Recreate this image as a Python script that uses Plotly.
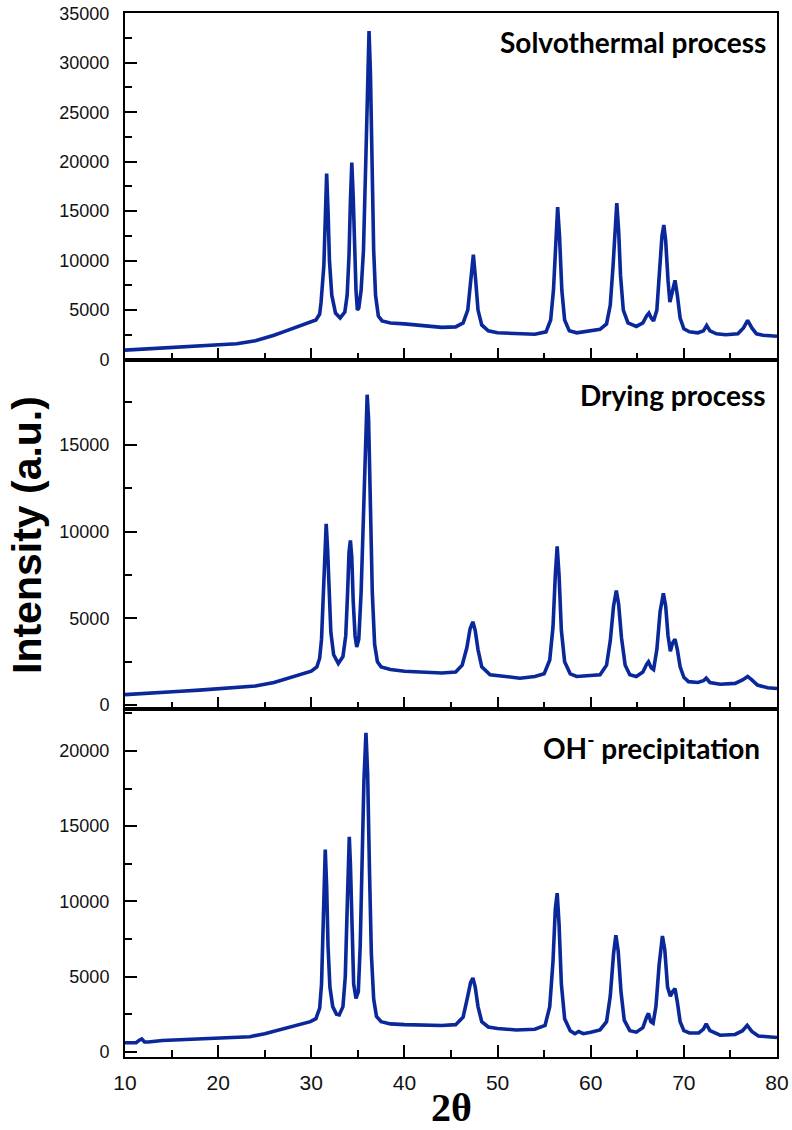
import plotly.graph_objects as go
from plotly.subplots import make_subplots

# ---------------- data ----------------
solv_x = [10, 12, 14, 16, 18, 20, 22, 24, 25, 26, 27, 28, 29, 30, 30.5, 30.9,
          31.05, 31.35, 31.5, 31.65, 31.8, 31.95, 32.2, 32.6, 33.1, 33.6,
          33.85, 34.05, 34.2, 34.35, 34.5, 34.65, 34.8, 34.95, 35.1,
          35.35, 35.6, 35.85, 36.05, 36.2, 36.35, 36.5, 36.7, 36.9, 37.2, 37.6,
          38.5, 40, 42, 44, 45.5, 46.3, 46.8, 47.1, 47.4, 47.65, 47.9, 48.3,
          49, 50, 52, 54, 55.2, 55.7, 56.0, 56.25, 56.45, 56.65, 56.9, 57.2,
          57.7, 58.5, 60, 61, 61.7, 62.1, 62.4, 62.6, 62.8, 63.0, 63.2, 63.5,
          64.0, 64.9, 65.6, 66.0, 66.25, 66.5, 66.75, 67.1, 67.4, 67.65, 67.85,
          68.05, 68.3, 68.5, 68.75, 69.05, 69.3, 69.6, 70.0, 70.6, 71.5, 72.1,
          72.45, 72.8, 73.5, 74.5, 75.8, 76.4, 76.85, 77.3, 77.8, 78.5, 80]
solv_y = [950, 1050, 1150, 1250, 1350, 1450, 1600, 1900, 2150, 2450, 2800, 3150, 3500, 3800, 4000, 4600,
          5800, 9500, 14500, 18800, 15000, 10000, 6500, 4700, 4200, 4800,
          6500, 10500, 16000, 19900, 16500, 11000, 7000, 5000, 5200,
          7000, 11000, 20000, 29000, 33200, 29000, 20000, 11000, 6500, 4400, 3900,
          3700, 3600, 3450, 3250, 3300, 3700, 5000, 8000, 10600, 8000, 5000, 3500,
          2900, 2700, 2600, 2550, 2800, 4000, 7000, 12500, 15400, 12500, 7000, 4000,
          2900, 2700, 2900, 3050, 3600, 5500, 9500, 13500, 15800, 13000, 8500, 5000,
          3700, 3350, 3700, 4400, 4700, 4200, 3900, 5000, 8500, 12500, 13600,
          12000, 8000, 5800, 6800, 8000, 6500, 4200, 3100, 2800, 2700, 2900,
          3450, 2900, 2600, 2500, 2600, 3200, 3950, 3200, 2600, 2450, 2350]

dry_x = [10, 12, 14, 16, 18, 20, 22, 24, 26, 27, 28, 29, 30, 30.6, 30.9,
         31.1, 31.3, 31.45, 31.6, 31.75, 31.9, 32.1, 32.4, 32.9, 33.4,
         33.7, 33.9, 34.05, 34.2, 34.35, 34.5, 34.7, 34.88, 35.1,
         35.35, 35.6, 35.85, 36.0, 36.15, 36.35, 36.55, 36.8, 37.1, 37.5,
         38.5, 40, 42, 44, 45.5, 46.2, 46.7, 47.05, 47.35, 47.6, 47.9, 48.3,
         49.2, 50.5, 52.4, 54.0, 55.0, 55.6, 55.95, 56.2, 56.4, 56.6, 56.85, 57.2,
         57.8, 58.5, 60, 61, 61.7, 62.1, 62.45, 62.75, 63.0, 63.3, 63.7,
         64.2, 64.9, 65.6, 66.0, 66.2, 66.5, 66.75, 67.1, 67.45, 67.8, 68.05,
         68.3, 68.55, 68.8, 69.05, 69.3, 69.6, 70.0, 70.5, 71.5, 72.1, 72.4,
         72.8, 73.9, 75.5, 76.3, 76.85, 77.3, 77.9, 79, 80]
dry_y = [600, 650, 720, 800, 860, 930, 1000, 1100, 1300, 1450, 1650, 1800, 1950, 2200, 2700,
         3800, 6500, 9000, 10450, 9000, 6500, 4200, 2900, 2400, 2800,
         4000, 6500, 8800, 9500, 8500, 6000, 4000, 3350, 3800,
         6500, 11500, 16500, 17900, 16500, 11500, 6500, 3500, 2500, 2200,
         2050, 1950, 1900, 1850, 1900, 2300, 3300, 4400, 4800, 4300, 3200, 2200,
         1750, 1650, 1550, 1650, 1800, 2600, 4500, 7500, 9150, 7500, 4300, 2500,
         1800, 1650, 1700, 1750, 2300, 3700, 5700, 6600, 5800, 3900, 2300,
         1750, 1650, 1900, 2350, 2500, 2150, 2050, 3200, 5400, 6450, 5700,
         4000, 3100, 3600, 3800, 3200, 2200, 1600, 1350, 1300, 1400, 1550,
         1300, 1200, 1250, 1450, 1650, 1450, 1150, 1000, 950]

oh_x = [10, 11.2, 11.5, 11.8, 12.1, 12.5, 14, 16, 18, 20, 22, 23.4, 25, 27, 28.5, 29.9,
        30.5, 30.9, 31.1, 31.25, 31.4, 31.5, 31.65, 31.8, 32.0, 32.3, 32.7, 33.0,
        33.4, 33.65, 33.85, 34.0, 34.08, 34.2, 34.35, 34.55, 34.8, 35.05,
        35.25, 35.45, 35.65, 35.87, 36.05, 36.25, 36.45, 36.7, 37.0, 37.5,
        38.5, 40, 42, 44, 45.5, 46.3, 46.8, 47.1, 47.35, 47.6, 47.9, 48.3,
        49, 50, 52, 54, 55.1, 55.6, 55.95, 56.2, 56.4, 56.6, 56.85, 57.2,
        57.8, 58.3, 58.7, 59.2, 60, 61, 61.7, 62.1, 62.45, 62.7, 62.95, 63.25,
        63.6, 64.2, 64.9, 65.6, 66.0, 66.2, 66.45, 66.7, 67.0, 67.35, 67.7,
        67.95, 68.25, 68.55, 68.8, 69.05, 69.3, 69.6, 70.0, 70.6, 71.6, 72.1,
        72.4, 72.8, 73.9, 75.5, 76.3, 76.8, 77.3, 78, 79, 80]
oh_y = [600, 600, 750, 850, 650, 650, 750, 800, 900, 950, 1000, 1000, 1200, 1550, 1800, 2000,
        2200, 2900, 4500, 8000, 12000, 13450, 11000, 7000, 4300, 3000, 2500, 2450,
        3000, 5000, 9500, 13200, 14300, 12500, 8000, 4500, 3550, 4000,
        7000, 12500, 18000, 21200, 18500, 12000, 6500, 3500, 2350, 2000,
        1850, 1800, 1780, 1750, 1800, 2300, 3700, 4600, 4900, 4300, 3000, 2000,
        1650, 1550, 1450, 1500, 1750, 3000, 6000, 9500, 10550, 8500, 4500, 2200,
        1400, 1200, 1350, 1200, 1300, 1450, 2000, 3700, 6500, 7750, 6700, 4000,
        2100, 1400, 1300, 1600, 2300, 2550, 2000, 1900, 3000, 5800, 7700,
        6800, 4300, 3700, 4000, 4200, 3300, 2000, 1400, 1250, 1250, 1500,
        1850, 1400, 1100, 1150, 1400, 1750, 1350, 1050, 1000, 950]

panel_labels = ["Solvothermal process", "Drying process", "OH<sup>-</sup> precipitation"]
y_ranges = [[-50, 35030], [-230, 19900], [-350, 22790]]
x_ticks = [10, 20, 30, 40, 50, 60, 70, 80]

# ---------------- figure ----------------
LINE = "#0a2899"
fig = make_subplots(rows=3, cols=1, shared_xaxes=True, vertical_spacing=0)
for i, (xs, ys) in enumerate([(solv_x, solv_y), (dry_x, dry_y), (oh_x, oh_y)]):
    fig.add_trace(go.Scatter(x=xs, y=ys, mode="lines",
                             line=dict(color=LINE, width=3.6), showlegend=False),
                  row=i + 1, col=1)

domains = [[0.6676, 1.0], [0.3333, 0.6676], [0.0, 0.3333]]
tickfont_y = dict(family="Liberation Sans, Arial", size=18, color="#111")
tickfont_x = dict(family="Liberation Sans, Arial", size=21, color="#111")

for i in range(3):
    ya = "yaxis" if i == 0 else f"yaxis{i+1}"
    xa = "xaxis" if i == 0 else f"xaxis{i+1}"
    fig.layout[ya].update(
        domain=domains[i], range=y_ranges[i], tick0=0, dtick=5000, tickformat="d",
        ticks="inside", ticklen=12, tickwidth=2, tickcolor="black",
        minor=dict(ticks="inside", ticklen=7, tickwidth=2, tickcolor="black", dtick=2500, tick0=0),
        showline=True, linewidth=2, linecolor="black", mirror=True,
        showgrid=False, zeroline=False, tickfont=tickfont_y,
        ticklabelstandoff=10, automargin=False, ticklabeloverflow="allow",
    )
    fig.layout[xa].update(
        range=[10, 80], tickvals=x_ticks,
        ticks="inside", ticklen=12, tickwidth=2, tickcolor="black",
        minor=dict(ticks="inside", ticklen=7, tickwidth=2, tickcolor="black", dtick=5, tick0=10),
        showline=True, linewidth=2, linecolor="black", mirror=True,
        showgrid=False, zeroline=False, tickfont=tickfont_x,
        showticklabels=(i == 2), ticklabelstandoff=6, automargin=False,
        ticklabeloverflow="allow",
    )

label_pos = [(0.986, 0.972), (0.986, 0.634), (0.977, 0.297)]
for (lx, ly), txt in zip(label_pos, panel_labels):
    fig.add_annotation(x=lx, y=ly, xref="paper", yref="paper", text=f"<b>{txt}</b>",
                       showarrow=False, xanchor="right", yanchor="middle",
                       font=dict(family="Lato, Open Sans", size=28, color="black"))

fig.add_annotation(x=(27 - 125) / 652, y=0.5, xref="paper", yref="paper",
                   text="<b>Intensity (a.u.)</b>", textangle=-90, showarrow=False,
                   xanchor="center", yanchor="middle",
                   font=dict(family="Liberation Sans, Arial", size=41, color="black"))
fig.add_annotation(x=0.5015, y=(1057 - 1107) / 1044, xref="paper", yref="paper",
                   text="<b>2θ</b>", showarrow=False, xanchor="center", yanchor="middle",
                   font=dict(family="Liberation Serif, Times New Roman", size=40, color="black"))

fig.update_layout(width=792, height=1130,
                  margin=dict(l=125, r=15, t=13, b=73, autoexpand=False),
                  plot_bgcolor="white", paper_bgcolor="white")

# remove the default 8 px page margin so the figure fills the window exactly
fig.write_html("out.html", config={"displayModeBar": False},
               post_script="document.body.style.margin='0';")
